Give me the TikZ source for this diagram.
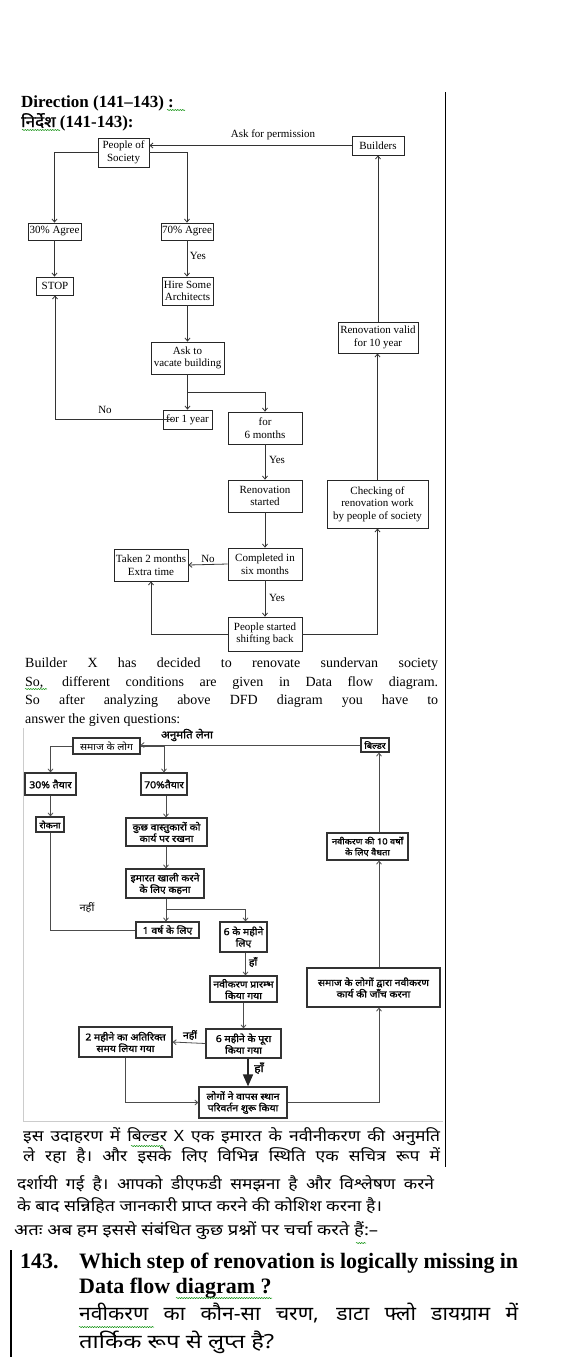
\documentclass[tikz,border=0pt]{standalone}
\usepackage{fontspec}
\usepackage{graphicx}
\setmainfont{Liberation Serif}
\newfontfamily\hindi[Script=Devanagari,FakeStretch=1.1]{Noto Sans}
\newfontfamily\hindib[Script=Devanagari,FakeBold=1.4,FakeStretch=1.1]{Noto Sans}
\newfontfamily\hindir[Script=Devanagari]{Noto Sans}
\usetikzlibrary{arrows.meta,decorations.pathmorphing}
% line of text set to a given width, glyphs widened
\newcommand{\fitline}[3]{\resizebox{#1}{\height}{\makebox[#2][s]{#3}}}
\tikzset{
	ebox/.style={draw=black!85, line width=0.8pt, fill=white, align=center, inner sep=0pt, font=\fontsize{11}{12.5}\selectfont},
	hbox/.style={draw=black!80, line width=1.2pt, fill=white, align=center, inner sep=0pt, font=\hindib\fontsize{9.5}{11.5}\selectfont},
	elabel/.style={inner sep=0pt, font=\fontsize{11}{12.5}\selectfont},
	hlabel/.style={inner sep=0pt, font=\hindib\fontsize{9.5}{11}\selectfont},
	flow/.style={line width=0.8pt, black!80, -{Straight Barb[length=3pt,width=5pt]}},
	hflow/.style={line width=0.8pt, black!70, -{Straight Barb[length=3pt,width=5pt]}},
	squig/.style={green!55!black, line width=0.5pt, decorate, decoration={snake, amplitude=0.6pt, segment length=2.5pt}},
	txt/.style={anchor=base west, inner sep=0pt}
}
\begin{document}
\begin{tikzpicture}[x=1pt,y=-1pt]
			%%%%% START %%%%%
			\useasboundingbox[fill=white] (0,0) rectangle (560,1360);
			
			\draw[line width=1pt] (445,92) -- (445,1167);
			
			\node[txt, font=\bfseries\fontsize{17}{20}\selectfont] (dir) at (21,107) {Direction (141--143) :};
			\node[txt] (nirdesh) at (21,127) {{\hindib\fontsize{15.5}{20}\selectfont निर्देश}{\bfseries\fontsize{17}{20}\selectfont\ (141-143):}};
			
			%%%%% ENGLISH DFD %%%%%
			\node[ebox, minimum width=51pt, minimum height=29pt] (pos) at (123.5,152.5) {People of\\Society};
			\node[ebox, minimum width=52pt, minimum height=19pt] (bld) at (378,145.5) {Builders};
			\node[ebox, minimum width=53pt, minimum height=17pt] (a30) at (54.5,231.5) {30\% Agree};
			\node[ebox, minimum width=52pt, minimum height=17pt] (a70) at (187,231.5) {70\% Agree};
			\node[ebox, minimum width=37pt, minimum height=18pt] (stop) at (55,286) {STOP};
			\node[ebox, minimum width=51pt, minimum height=28pt] (hire) at (187.5,291) {Hire Some\\Architects};
			\node[ebox, minimum width=73pt, minimum height=32pt] (vac) at (187.5,358) {Ask to\\vacate building};
			\node[ebox, minimum width=49pt, minimum height=19pt] (y1) at (187.5,419.5) {for 1 year};
			\node[ebox, minimum width=74pt, minimum height=32pt] (m6) at (265,428) {for\\6 months};
			\node[ebox, minimum width=74pt, minimum height=32pt] (ren) at (265,496) {Renovation\\started};
			\node[ebox, minimum width=74pt, minimum height=32pt] (cmp) at (265,564) {Completed in\\six months};
			\node[ebox, minimum width=74pt, minimum height=32pt] (ext) at (151,565) {Taken 2 months\\Extra time};
			\node[ebox, minimum width=74pt, minimum height=34pt] (shf) at (265,634) {People started\\shifting back};
			\node[ebox, minimum width=101pt, minimum height=48pt] (chk) at (377.5,504) {Checking of\\renovation work\\by people of society};
			\node[ebox, minimum width=80pt, minimum height=31pt] (val) at (378,337.5) {Renovation valid\\for 10 year};
			
			\coordinate (efork) at (187.5,392);
			\draw[flow] (bld.west) -- (bld.west -| pos.east);
			\node[elabel] (askp) at (273,135) {Ask for permission};
			\draw[flow] (pos.west) -| (a30.north);
			\draw[flow] (pos.east) -| (a70.north);
			\draw[flow] (a30.south) -- (a30.south |- stop.north);
			\draw[flow] (a70.south) -- (a70.south |- hire.north);
			\node[elabel] (yes1) at (198,256) {Yes};
			\draw[flow] (hire.south) -- (vac.north);
			\draw[flow] (vac.south) -- (y1.north);
			\draw[flow] (efork) -| (m6.north);
			\draw[flow] ([xshift=10pt]y1.west) -| (stop.south);
			\node[elabel] (no1) at (105,410) {No};
			\draw[flow] (m6.south) -- (ren.north);
			\node[elabel] (yes2) at (277,460) {Yes};
			\draw[flow] (ren.south) -- (cmp.north);
			\draw[flow] (cmp.west) -- (ext.east);
			\node[elabel] (no2) at (208,559) {No};
			\draw[flow] (cmp.south) -- (shf.north);
			\node[elabel] (yes3) at (277,598) {Yes};
			\draw[flow] (shf.west) -| (ext.south);
			\draw[flow] (shf.east) -| (chk.south);
			\draw[flow] (chk.north) -- (chk.north |- val.south);
			\draw[flow] (val.north) -- (val.north |- bld.south);
			
			%%%%% ENGLISH TEXT %%%%%
			\node[txt, font=\fontsize{14}{17}\selectfont] (p1) at (25,667) {\makebox[413pt][s]{Builder X has decided to renovate sundervan society}};
			\node[txt, font=\fontsize{14}{17}\selectfont] (p2) at (25,686) {\makebox[413pt][s]{So, different conditions are given in Data flow diagram.}};
			\node[txt, font=\fontsize{14}{17}\selectfont] (p3) at (25,704.5) {\makebox[413pt][s]{So after analyzing above DFD diagram you have to}};
			\node[txt, font=\fontsize{14}{17}\selectfont] (p4) at (25,723) {answer the given questions:};
			
			%%%%% HINDI DFD %%%%%
			\draw[gray!40, line width=0.8pt] (23,728) -- (23,1121) -- (443,1121);
			
			\node[hbox, minimum width=67pt, minimum height=16pt, font=\hindi\fontsize{9.5}{11}\selectfont] (sl) at (106.5,746) {समाज के लोग};
			\node[hbox, minimum width=28pt, minimum height=14pt, font=\hindib\fontsize{8.5}{10}\selectfont] (hb) at (375,745) {बिल्डर};
			\node[hbox, minimum width=51pt, minimum height=22pt] (h30) at (50.5,784) {30\% तैयार};
			\node[hbox, minimum width=46pt, minimum height=22pt] (h70) at (164,784) {70\%तैयार};
			\node[hbox, minimum width=28pt, minimum height=15pt, font=\hindib\fontsize{8.5}{10}\selectfont] (rok) at (50,824.5) {रोकना};
			\node[hbox, minimum width=81pt, minimum height=28pt] (vas) at (166.5,832) {कुछ वास्तुकारों को\\कार्य पर रखना};
			\node[hbox, minimum width=78pt, minimum height=29pt] (ima) at (165,883.5) {इमारत खाली करने\\के लिए कहना};
			\node[hbox, minimum width=63pt, minimum height=16pt] (hy1) at (167.5,930) {1 वर्ष के लिए};
			\node[hbox, minimum width=47pt, minimum height=30pt] (hm6) at (243.5,937) {6 के महीने\\लिए};
			\node[hbox, minimum width=67pt, minimum height=26pt] (hren) at (243.5,989) {नवीकरण प्रारम्भ\\किया गया};
			\node[hbox, minimum width=75pt, minimum height=29pt] (hcmp) at (243.5,1043.5) {6 महीने के पूरा\\किया गया};
			\node[hbox, minimum width=93pt, minimum height=30pt] (hext) at (125.5,1042) {2 महीने का अतिरिक्त\\समय लिया गया};
			\node[hbox, minimum width=88pt, minimum height=31pt] (hshf) at (243,1102.5) {लोगों ने वापस स्थान\\परिवर्तन शुरू किया};
			\node[hbox, minimum width=133pt, minimum height=39pt] (hchk) at (373.5,987.5) {समाज के लोगों द्वारा नवीकरण\\कार्य की जाँच करना};
			\node[hbox, minimum width=81pt, minimum height=27pt, font=\hindib\fontsize{8.5}{11}\selectfont] (hval) at (367.5,846.5) {नवीकरण की 10 वर्षों\\के लिए वैधता};
			
			\coordinate (hfork) at (166,909);
			\coordinate (hx) at (379,0);
			\draw[hflow] (hb.west) -- (hb.west -| sl.east);
			\node[hlabel, font=\hindib\fontsize{10.5}{12}\selectfont] (anu) at (187,735) {अनुमति लेना};
			\draw[hflow] (sl.west) -| (h30.north);
			\draw[hflow] (sl.east) -| (h70.north);
			\draw[hflow] (h30.south) -- (h30.south |- rok.north);
			\draw[line width=0.8pt, black!70] (rok.south) |- (hy1.west);
			\node[hlabel, font=\hindi\fontsize{10}{11}\selectfont] (nahi1) at (87,908) {नहीं};
			\draw[hflow] (h70.south -| hfork) -- (hfork |- vas.north);
			\draw[hflow] (vas.south -| hfork) -- (hfork |- ima.north);
			\draw[hflow] (ima.south -| hfork) -- (hfork |- hy1.north);
			\draw[hflow] (hfork) -| ([xshift=2pt]hm6.north);
			\draw[hflow] ([xshift=2pt]hm6.south) -- ([xshift=2pt]hm6.south |- hren.north);
			\node[hlabel] (haan1) at (253,962) {हाँ};
			\draw[hflow] (hren.south) -- (hcmp.north);
			\draw[hflow] (hcmp.west) -- (hext.east);
			\node[hlabel] (nahi2) at (190,1035) {नहीं};
			\draw[line width=1.6pt, black!85, -{Triangle[width=10pt,length=12pt]}] ([xshift=4.5pt]hcmp.south) -- ([xshift=4.5pt]hcmp.south |- hshf.north);
			\node[hlabel, font=\hindib\fontsize{11}{12}\selectfont] (haan2) at (259,1068) {हाँ};
			\draw[hflow] (hext.south) |- (hshf.west);
			\draw[hflow] (hshf.east) -| (hx |- hchk.south);
			\draw[hflow] (hx |- hchk.north) -- (hx |- hval.south);
			\draw[hflow] (hx |- hval.north) -- (hx |- hb.south);
			
			%%%%% HINDI TEXT %%%%%
			\node[txt, font=\hindir\fontsize{15.5}{18}\selectfont] (q1) at (23,1141.5) {\fitline{417pt}{370pt}{इस उदाहरण में बिल्डर X एक इमारत के नवीनीकरण की अनुमति}};
			\node[txt, font=\hindir\fontsize{15.5}{18}\selectfont] (q2) at (23,1161) {\fitline{417pt}{370pt}{ले रहा है। और इसके लिए विभिन्न स्थिति एक सचित्र रूप में}};
			\node[txt, font=\hindir\fontsize{15.5}{18}\selectfont] (q3) at (17,1189.5) {\fitline{417pt}{370pt}{दर्शायी गई है। आपको डीएफडी समझना है और विश्लेषण करने}};
			\node[txt, font=\hindir\fontsize{15.5}{18}\selectfont] (q4) at (17,1211) {\resizebox{365pt}{\height}{के बाद सन्निहित जानकारी प्राप्त करने की कोशिश करना है।}};
			\node[txt, font=\hindir\fontsize{15.5}{18}\selectfont] (q5) at (14,1235.5) {\resizebox{364pt}{\height}{अतः अब हम इससे संबंधित कुछ प्रश्नों पर चर्चा करते हैं:–}};
			
			%%%%% QUESTION %%%%%
			\draw[line width=2.5pt] (11,1250) -- (11,1357);
			\node[txt, font=\bfseries\fontsize{22}{26}\selectfont] (qno) at (20,1268) {143.};
			\node[txt, font=\bfseries\fontsize{22}{26}\selectfont] (qe1) at (79,1268) {\makebox[439pt][s]{Which step of renovation is logically missing in}};
			\node[txt, font=\bfseries\fontsize{22}{26}\selectfont] (qe2) at (79,1293) {Data flow diagram ?};
			\node[txt, font=\hindir\fontsize{19.5}{22}\selectfont] (qh1) at (79,1320) {\fitline{439pt}{405pt}{नवीकरण का कौन-सा चरण, डाटा फ्लो डायग्राम में}};
			\node[txt, font=\hindir\fontsize{19.5}{22}\selectfont] (qh2) at (79,1348) {\resizebox{195pt}{\height}{तार्किक रूप से लुप्त है?}};
			
			%%%%% SPELL MARKS %%%%%
			\draw[squig] (167,110) -- (185,110);
			\draw[squig] (22,130) -- (60,130);
			\draw[squig] (25,689) -- (47,689);
			\draw[squig] (131,1146) -- (163,1146);
			\draw[squig] (356,1243) -- (366,1243);
			\draw[squig] (176,1298) -- (272,1298);
			\draw[squig] (79,1327) -- (154,1327);
			%%%%% END %%%%%
\end{tikzpicture}
\end{document}
